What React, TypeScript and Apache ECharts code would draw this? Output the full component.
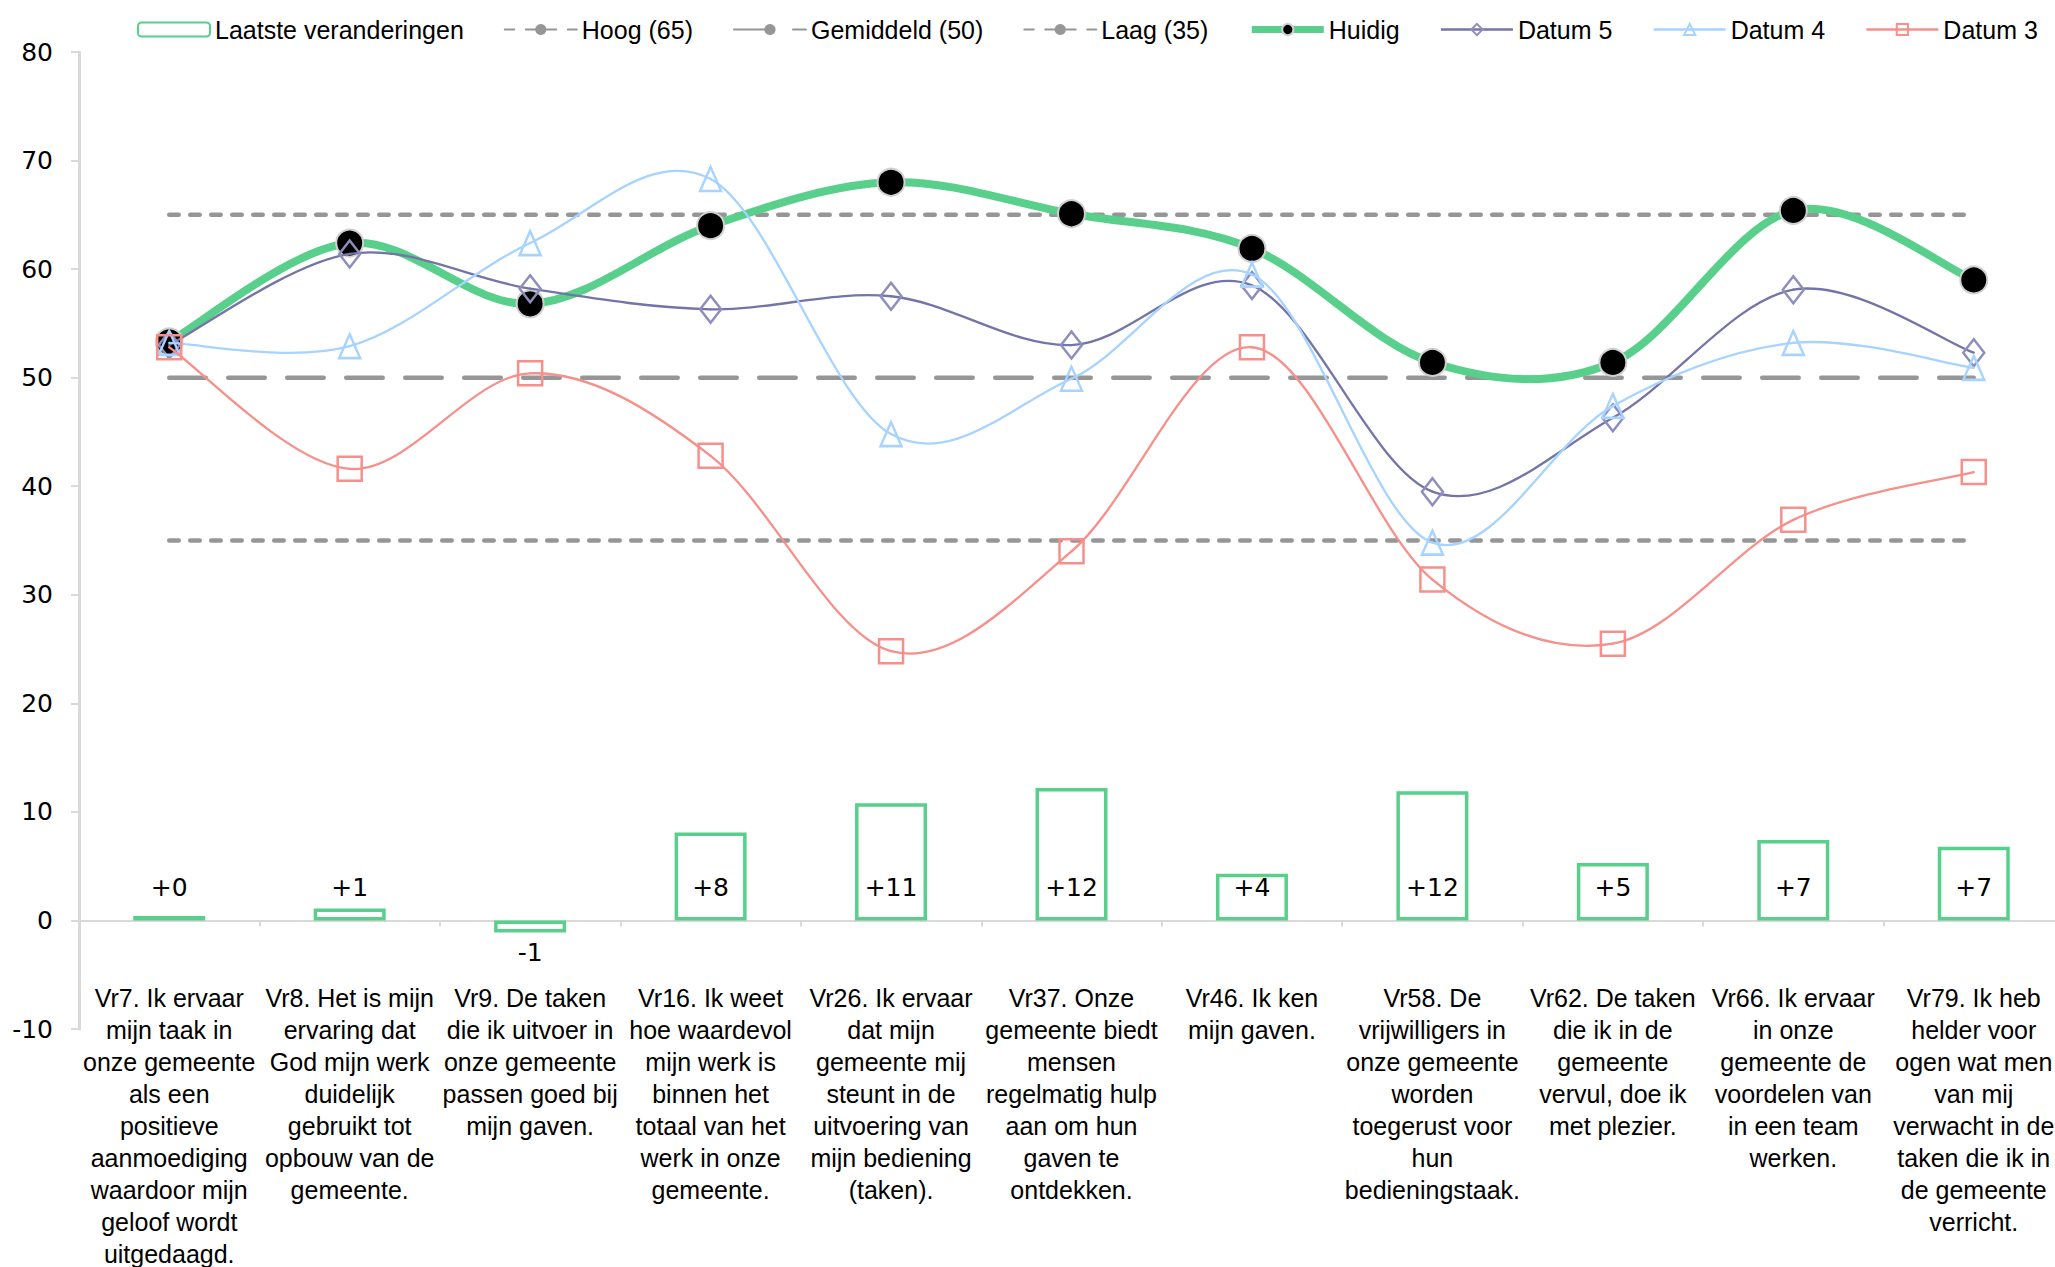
import React, { useEffect, useRef } from "react";
import * as echarts from "echarts";

const categories = [
  "Vr7. Ik ervaar\nmijn taak in\nonze gemeente\nals een\npositieve\naanmoediging\nwaardoor mijn\ngeloof wordt\nuitgedaagd.",
  "Vr8. Het is mijn\nervaring dat\nGod mijn werk\nduidelijk\ngebruikt tot\nopbouw van de\ngemeente.",
  "Vr9. De taken\ndie ik uitvoer in\nonze gemeente\npassen goed bij\nmijn gaven.",
  "Vr16. Ik weet\nhoe waardevol\nmijn werk is\nbinnen het\ntotaal van het\nwerk in onze\ngemeente.",
  "Vr26. Ik ervaar\ndat mijn\ngemeente mij\nsteunt in de\nuitvoering van\nmijn bediening\n(taken).",
  "Vr37. Onze\ngemeente biedt\nmensen\nregelmatig hulp\naan om hun\ngaven te\nontdekken.",
  "Vr46. Ik ken\nmijn gaven.",
  "Vr58. De\nvrijwilligers in\nonze gemeente\nworden\ntoegerust voor\nhun\nbedieningstaak.",
  "Vr62. De taken\ndie ik in de\ngemeente\nvervul, doe ik\nmet plezier.",
  "Vr66. Ik ervaar\nin onze\ngemeente de\nvoordelen van\nin een team\nwerken.",
  "Vr79. Ik heb\nhelder voor\nogen wat men\nvan mij\nverwacht in de\ntaken die ik in\nde gemeente\nverricht.",
];

const laatsteVeranderingen = [0.4, 1.1, -1.1, 8.1, 10.8, 12.2, 4.3, 11.9, 5.3, 7.4, 6.8];
const hoog = [65, 65, 65, 65, 65, 65, 65, 65, 65, 65, 65];
const gemiddeld = [50, 50, 50, 50, 50, 50, 50, 50, 50, 50, 50];
const laag = [35, 35, 35, 35, 35, 35, 35, 35, 35, 35, 35];
const huidig = [53.3, 62.4, 56.8, 64.0, 68.0, 65.1, 61.9, 51.4, 51.4, 65.4, 59.0];
const datum5 = [53.0, 61.4, 58.2, 56.3, 57.5, 53.0, 58.5, 39.5, 46.3, 58.1, 52.3];
const datum4 = [53.2, 52.9, 62.4, 68.3, 44.8, 49.9, 59.5, 34.8, 47.4, 53.2, 50.9];
const datum3 = [52.8, 41.6, 50.4, 42.8, 24.8, 34.0, 52.8, 31.4, 25.5, 36.9, 41.3];

const GREEN = "#58d08c";
const GREY = "#969696";
const PURPLE = "#7474a8";
const BLUE = "#a6d3ff";
const SALMON = "#f78f8a";
const LABEL_FONT = "'Liberation Sans', Arial, sans-serif";
const NUM_FONT = "'DejaVu Sans', Verdana, sans-serif";

function signed(v: number): string {
  const r = Math.round(v);
  return r < 0 ? String(r) : "+" + r;
}

// Excel-like smoothed curve (Catmull-Rom as cubic Bezier), one segment per data item
function curveSeries(name: string, values: number[], color: string, width: number, z: number) {
  const n = values.length;
  return {
    name,
    type: "custom",
    coordinateSystem: "cartesian2d",
    data: values.map((v, i) => [i, v]),
    encode: { x: 0, y: 1 },
    silent: true,
    z,
    renderItem: (params: any, api: any) => {
      const i = params.dataIndex;
      if (i >= n - 1) return { type: "group", children: [] };
      const pt = (k: number) => {
        const kk = Math.max(0, Math.min(n - 1, k));
        return api.coord([kk, values[kk]]);
      };
      const p0 = pt(i - 1);
      const p1 = pt(i);
      const p2 = pt(i + 1);
      const p3 = pt(i + 2);
      return {
        type: "bezierCurve",
        shape: {
          x1: p1[0],
          y1: p1[1],
          x2: p2[0],
          y2: p2[1],
          cpx1: p1[0] + (p2[0] - p0[0]) / 6,
          cpy1: p1[1] + (p2[1] - p0[1]) / 6,
          cpx2: p2[0] - (p3[0] - p1[0]) / 6,
          cpy2: p2[1] - (p3[1] - p1[1]) / 6,
        },
        style: { stroke: color, lineWidth: width, fill: "none", lineCap: "round" },
      };
    },
  };
}

export default function App() {
  const ref = useRef<HTMLDivElement>(null);
  useEffect(() => {
    if (!ref.current) return;
    const chart = echarts.init(ref.current, null, { renderer: "svg" });
    const barData = laatsteVeranderingen.map((v) => ({
      value: v,
      label:
        v < 0
          ? { position: "bottom", distance: 8 }
          : { position: "insideBottom", distance: 20 },
    }));
    const refLine = (name: string, data: number[], dash: number[]) => ({
      name,
      type: "line",
      data,
      symbol: "none",
      showSymbol: false,
      lineStyle: { color: GREY, width: 4.5, type: dash, cap: "round" },
      itemStyle: { color: GREY },
      z: 3,
    });
    const markerSeries = (
      name: string,
      values: number[],
      symbol: string,
      size: any,
      itemStyle: any,
      lineColor: string,
      z: number
    ) => ({
      name,
      type: "line",
      data: values,
      symbol,
      symbolSize: size,
      lineStyle: { color: lineColor, width: 2.5, opacity: 0 },
      itemStyle,
      z,
    });
    chart.setOption({
      animation: false,
      legend: {
        left: 132,
        top: 12,
        width: 1950,
        itemWidth: 72,
        itemHeight: 14,
        itemGap: 40,
        textStyle: { fontFamily: LABEL_FONT, fontSize: 25, color: "#000" },
        data: [
          { name: "Laatste veranderingen" },
          { name: "Hoog (65)" },
          { name: "Gemiddeld (50)" },
          { name: "Laag (35)" },
          { name: "Huidig", lineStyle: { opacity: 1, width: 7 } },
          { name: "Datum 5", lineStyle: { opacity: 1, width: 2.5 } },
          { name: "Datum 4", lineStyle: { opacity: 1, width: 2.5 } },
          { name: "Datum 3", lineStyle: { opacity: 1, width: 2.5 } },
        ],
      },
      grid: { left: 79, top: 52, width: 1985, height: 977, outerBoundsMode: "none", containLabel: false },
      xAxis: {
        type: "category",
        data: categories,
        boundaryGap: true,
        axisLine: { onZero: true, lineStyle: { color: "#d9d9d9", width: 2 } },
        axisTick: { show: true, length: 6, lineStyle: { color: "#d9d9d9", width: 2 } },
        axisLabel: {
          interval: 0,
          margin: -47,
          fontFamily: LABEL_FONT,
          fontSize: 25,
          lineHeight: 32,
          color: "#000",
          align: "center",
        },
        splitLine: { show: false },
      },
      yAxis: {
        type: "value",
        min: -10,
        max: 80,
        interval: 10,
        axisLine: { show: true, lineStyle: { color: "#d9d9d9", width: 3 } },
        axisTick: { show: true, length: 8, lineStyle: { color: "#d9d9d9", width: 2 } },
        axisLabel: { fontFamily: NUM_FONT, fontSize: 25, color: "#000", margin: 26 },
        splitLine: { show: false },
      },
      series: [
        {
          name: "Laatste veranderingen",
          type: "bar",
          data: barData,
          barWidth: 72,
          itemStyle: { color: "rgba(255,255,255,0)", borderColor: GREEN, borderWidth: 3.5 },
          label: {
            show: true,
            fontFamily: NUM_FONT,
            fontSize: 25,
            color: "#000",
            formatter: (p: any) => signed(p.value),
          },
          z: 2,
        },
        refLine("Hoog (65)", hoog, [9.5, 11.5]),
        refLine("Gemiddeld (50)", gemiddeld, [36.5, 22.5]),
        refLine("Laag (35)", laag, [9.5, 11.5]),
        curveSeries("huidig-curve", huidig, GREEN, 8, 4),
        markerSeries(
          "Huidig",
          huidig,
          "circle",
          27,
          { color: "#000", borderColor: "#d0d0d0", borderWidth: 2 },
          GREEN,
          5
        ),
        curveSeries("datum5-curve", datum5, PURPLE, 2.3, 6),
        markerSeries(
          "Datum 5",
          datum5,
          "diamond",
          [21, 27],
          { color: "rgba(255,255,255,0)", borderColor: "#8e8ebd", borderWidth: 2.5 },
          PURPLE,
          7
        ),
        curveSeries("datum4-curve", datum4, BLUE, 2.3, 8),
        markerSeries(
          "Datum 4",
          datum4,
          "triangle",
          [21, 24],
          { color: "rgba(255,255,255,0)", borderColor: BLUE, borderWidth: 2.5 },
          BLUE,
          9
        ),
        curveSeries("datum3-curve", datum3, SALMON, 2.3, 10),
        markerSeries(
          "Datum 3",
          datum3,
          "rect",
          24,
          { color: "rgba(255,255,255,0)", borderColor: SALMON, borderWidth: 2.5 },
          SALMON,
          11
        ),
      ],
    });
    return () => chart.dispose();
  }, []);
  return (
    <div
      ref={ref}
      style={{ position: "fixed", left: 0, top: 0, width: 2055, height: 1267, background: "#fff" }}
    />
  );
}
